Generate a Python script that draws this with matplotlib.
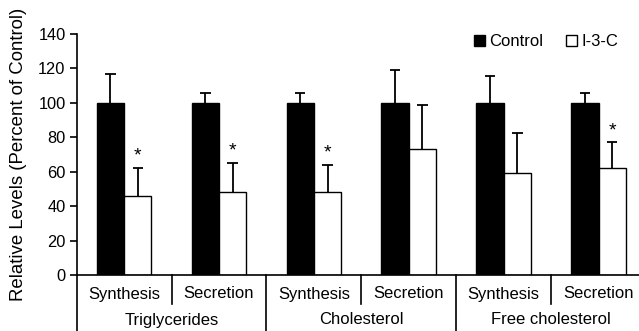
import matplotlib
matplotlib.use("Agg")
import matplotlib.pyplot as plt
import numpy as np
from matplotlib.transforms import blended_transform_factory
from matplotlib.lines import Line2D

plt.rcParams['font.family'] = ['Liberation Sans', 'DejaVu Sans']

groups = ["Triglycerides", "Cholesterol", "Free cholesterol"]
subcats = ["Synthesis", "Secretion", "Synthesis", "Secretion", "Synthesis", "Secretion"]
control = [100, 100, 100, 100, 100, 100]
control_err = [17, 6, 6, 19, 15.5, 6]
i3c = [46, 48.5, 48, 73, 59.5, 62]
i3c_err = [16, 16.5, 16, 26, 23, 15]
signif = [True, True, True, False, False, True]
yticks = [0, 20, 40, 60, 80, 100, 120, 140]

W, H = 639, 331
fig = plt.figure(figsize=(W / 100, H / 100), dpi=100)
left = 76.7 / W
right_px = 646
ax = fig.add_axes([left, 56 / H, (right_px - 76.7) / W, (275 - 34) / H])

x = np.arange(len(subcats)) + 0.5
bw = 0.288
cap = 0.11
ax.bar(x - bw / 2, control, bw, color='black', edgecolor='black', linewidth=1, label='Control', zorder=2)
ax.bar(x + bw / 2, i3c, bw, color='white', edgecolor='black', linewidth=1, label='I-3-C', zorder=2)
for xs, vals, errs in [(x - bw / 2, control, control_err), (x + bw / 2, i3c, i3c_err)]:
    tops = np.array(vals) + np.array(errs)
    ax.vlines(xs, vals, tops, color='black', lw=1.3, zorder=1)
    ax.hlines(tops, xs - cap / 2, xs + cap / 2, color='black', lw=1.3, zorder=1)
for xi, v, e, s in zip(x, i3c, i3c_err, signif):
    if s:
        ax.text(xi + bw / 2, v + e + 2, '*', ha='center', va='bottom', fontsize=14)

ax.set_xlim(0, 6)
ax.set_ylim(0, 140)
ax.set_yticks(yticks)
ax.tick_params(axis='y', direction='out', length=5, width=1.2, labelsize=11.8, pad=3)
ax.set_xticks([])
for sp in ['top', 'right']:
    ax.spines[sp].set_visible(False)
ax.spines['left'].set_linewidth(1.2)
ax.spines['bottom'].set_linewidth(1.2)
ax.set_ylabel('Relative Levels (Percent of Control)', fontsize=13.4, labelpad=8)

trans = blended_transform_factory(ax.transData, ax.transAxes)
ppa = 1.0 / (275 - 34)  # axes fraction per pixel
for xs in [1, 3, 5]:
    ax.add_line(Line2D([xs, xs], [0, -29 * ppa], transform=trans, color='black', lw=1.2, clip_on=False))
for xs in [0, 2, 4, 6]:
    ax.add_line(Line2D([xs, xs], [0, -58 * ppa], transform=trans, color='black', lw=1.2, clip_on=False))
for xi, lab in zip(x, subcats):
    ax.text(xi, -19 * ppa, lab, transform=trans, ha='center', va='center', fontsize=12)
for gi, g in enumerate(groups):
    ax.text(2 * gi + 1, -45 * ppa, g, transform=trans, ha='center', va='center', fontsize=12)

leg = ax.legend(loc='center left', bbox_to_anchor=((474 - 76.7) / (right_px - 76.7), (275 - 42) / 241),
                ncol=2, frameon=False, fontsize=12,
                handlelength=0.65, handleheight=0.65, handletextpad=0.25, columnspacing=1.4,
                borderaxespad=0, borderpad=0)

fig.savefig('out.png', dpi=100)
